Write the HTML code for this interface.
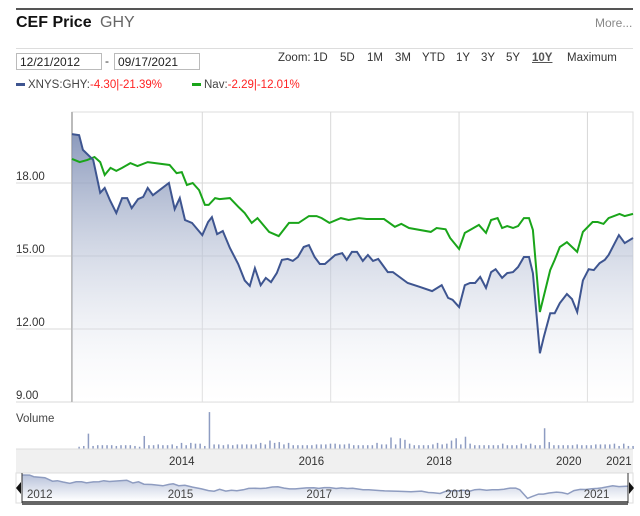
<!DOCTYPE html>
<html><head><meta charset="utf-8"><style>
body{margin:0;background:#fff;width:640px;height:516px;overflow:hidden;font-family:"Liberation Sans",sans-serif;position:relative}
.a{position:absolute;white-space:nowrap}
input{position:absolute;font:12px "Liberation Sans",sans-serif;border:1px solid #bbb;padding:0 3px;height:17px;box-sizing:border-box;color:#222}
.z{position:absolute;top:52px;font-size:11.5px;color:#333}
</style></head><body>
<div class="a" style="left:16px;top:8px;width:617px;height:2px;background:#555"></div>
<div class="a" style="left:16px;top:14px;font-size:16px;font-weight:bold;color:#111">CEF Price <span style="font-weight:normal;color:#666;margin-left:4px">GHY</span></div>
<div class="a" style="left:595px;top:16px;font-size:12px;color:#888">More...</div>
<div class="a" style="left:16px;top:48px;width:617px;height:1px;background:#ddd"></div>
<input style="left:16px;top:53px;width:86px" value="12/21/2012">
<div class="a" style="left:105px;top:54px;font-size:12px;color:#333">-</div>
<input style="left:114px;top:53px;width:86px" value="09/17/2021">
<div class="z" style="left:278px">Zoom:</div>
<div class="z" style="left:313px">1D</div>
<div class="z" style="left:340px">5D</div>
<div class="z" style="left:367px">1M</div>
<div class="z" style="left:395px">3M</div>
<div class="z" style="left:422px">YTD</div>
<div class="z" style="left:456px">1Y</div>
<div class="z" style="left:481px">3Y</div>
<div class="z" style="left:506px">5Y</div>
<div class="z" style="left:532px;font-weight:bold;text-decoration:underline;color:#555">10Y</div>
<div class="z" style="left:567px">Maximum</div>
<div class="a" style="left:16px;top:79px;font-size:11.5px;color:#444"><span style="display:inline-block;width:9px;height:3px;background:#3e5590;vertical-align:middle;margin-right:3px"></span>XNYS:GHY:<span style="color:#f22">-4.30|-21.39%</span></div>
<div class="a" style="left:192px;top:79px;font-size:11.5px;color:#444"><span style="display:inline-block;width:9px;height:3px;background:#1aa51a;vertical-align:middle;margin-right:3px"></span>Nav:<span style="color:#f22">-2.29|-12.01%</span></div>
<div class="a" style="left:16px;top:413px;font-size:11.5px;color:#444">Volume</div>
<svg id="c" width="640" height="516" style="position:absolute;left:0;top:0">
<defs>
<linearGradient id="g" x1="0" y1="0" x2="0" y2="1"><stop offset="0" stop-color="#7f8fb5" stop-opacity="0.9"/><stop offset="1" stop-color="#fff" stop-opacity="0.2"/></linearGradient>
<linearGradient id="g2" x1="0" y1="0" x2="0" y2="1"><stop offset="0" stop-color="#b8c2da"/><stop offset="1" stop-color="#fff"/></linearGradient>
</defs>
</svg>
<script>
const priceDates=[2012.97,2013.08,2013.14,2013.30,2013.41,2013.48,2013.56,2013.66,2013.75,2013.83,2013.90,2014.00,2014.08,2014.15,2014.23,2014.48,2014.57,2014.65,2014.73,2014.84,2015.0,2015.09,2015.15,2015.23,2015.32,2015.43,2015.56,2015.66,2015.74,2015.82,2015.91,2015.99,2016.07,2016.16,2016.24,2016.33,2016.41,2016.49,2016.58,2016.66,2016.75,2016.83,2016.91,2017.07,2017.18,2017.25,2017.33,2017.41,2017.50,2017.58,2017.66,2017.74,2017.89,2017.97,2018.2,2018.39,2018.58,2018.73,2018.83,2018.90,2019.0,2019.09,2019.17,2019.25,2019.33,2019.42,2019.50,2019.57,2019.67,2019.75,2019.84,2019.92,2020.01,2020.09,2020.15,2020.26,2020.32,2020.42,2020.49,2020.57,2020.68,2020.76,2020.84,2020.93,2021.02,2021.10,2021.19,2021.27,2021.33,2021.49,2021.58,2021.71];
const priceValues=[20.01,19.97,19.36,18.95,17.6,17.8,17.3,16.77,17.38,17.38,16.97,17.34,17.43,17.8,17.5,18.0,16.93,17.38,16.48,16.36,15.86,16.4,16.6,15.9,16.03,15.33,14.67,14.0,13.77,14.5,13.8,14.1,13.93,14.3,14.84,14.88,14.8,14.96,15.37,15.45,14.96,14.67,14.67,15.04,15.12,14.84,15.17,15.17,14.8,15.04,14.8,14.88,14.34,14.34,13.89,13.73,13.56,13.8,13.28,13.2,12.9,13.8,13.89,13.89,14.14,13.69,14.34,14.46,14.1,14.3,14.34,14.55,14.96,14.96,14.3,11.0,11.67,12.65,12.65,13.06,13.44,13.23,12.7,14.0,14.46,14.42,14.71,14.84,15.04,15.86,15.53,15.74];
const navDates=[2012.97,2013.09,2013.21,2013.32,2013.41,2013.48,2013.57,2013.66,2013.75,2013.88,2013.99,2014.15,2014.49,2014.60,2014.68,2014.76,2014.85,2014.95,2015.04,2015.10,2015.20,2015.27,2015.43,2015.57,2015.66,2015.77,2015.86,2016.04,2016.19,2016.35,2016.50,2016.66,2016.78,2016.86,2016.98,2017.16,2017.28,2017.44,2017.56,2017.83,2018.00,2018.10,2018.22,2018.56,2018.65,2018.79,2018.86,2019.00,2019.09,2019.17,2019.31,2019.42,2019.50,2019.60,2019.67,2019.75,2019.84,2019.92,2020.01,2020.09,2020.15,2020.26,2020.42,2020.49,2020.57,2020.68,2020.84,2020.93,2021.08,2021.16,2021.25,2021.33,2021.50,2021.58,2021.71];
const navValues=[18.99,18.86,18.95,19.07,18.86,18.33,18.62,18.5,18.62,18.82,18.7,18.86,18.74,18.41,18.45,17.92,18.0,17.71,17.1,17.1,17.38,17.34,17.38,17.0,16.77,16.36,16.56,15.99,15.82,16.36,16.36,16.64,16.64,16.56,16.36,16.56,16.48,16.56,16.52,16.52,16.2,16.32,16.15,15.99,16.15,16.1,15.74,15.29,15.95,16.07,16.28,15.95,16.48,16.56,16.15,16.23,16.15,16.23,16.56,16.56,16.07,12.7,14.42,14.84,15.37,15.57,15.17,15.99,16.4,16.4,16.32,16.56,16.73,16.64,16.73];
const volumeValues=[1,2,18,2,3,3,3,3,2,3,3,3,2,1,15,3,3,4,3,3,4,2,6,3,6,5,5,2,46,4,4,3,4,3,4,4,4,4,4,6,4,9,6,7,4,6,3,3,3,3,3,4,4,4,5,5,4,4,5,3,3,3,3,3,6,4,4,13,4,12,10,5,3,3,3,3,4,6,4,5,9,12,4,14,5,3,3,3,3,3,3,5,3,3,3,5,3,5,3,3,25,7,3,3,3,3,3,4,3,3,3,4,4,4,4,5,2,5,2,2];
const yTicks=[18,15,12,9];
const yTickLabels=["18.00","15.00","12.00","9.00"];
const gridYears=[2015,2017,2019,2021];
const axisLabelYears=[2014,2016,2018,2020,2021];
const axisLabelPos=[2014.68,2016.70,2018.69,2020.71,2021.49];
const navLabels=["2012","2015","2017","2019","2021"];
const navLabelPos=[2012.97,2015.0,2017.0,2019.0,2021.0];

const NS="http://www.w3.org/2000/svg",svg=document.getElementById('c');
const X0=72,X1=633,D0=2012.97,D1=2021.71;
const x=d=>X0+(d-D0)/(D1-D0)*(X1-X0);
const y=v=>402-(v-9)*24.33;
const NX0=22,NX1=628,ND0=2012.97,ND1=2021.71;
const nx=d=>NX0+(d-ND0)/(ND1-ND0)*(NX1-NX0);
const ny=v=>501-(v-10)*2.6;
function mk(t,a,p){const e=document.createElementNS(NS,t);for(const k in a)e.setAttribute(k,a[k]);(p||svg).appendChild(e);return e;}
let e=mk('rect',{x:X0,y:112,width:X1-X0,height:290,fill:'none',stroke:'#ddd'});


yTicks.forEach((t,i)=>{
 let l=mk('line',{x1:16,x2:X1,y1:y(t),y2:y(t),stroke:'#d8d8d8'});
 
 
 let tx=mk('text',{x:16,y:y(t)-3,'font-size':'11.5','fill':'#333','font-family':'Liberation Sans'});
 tx.textContent=yTickLabels[i];
 
 
});
gridYears.forEach(g=>{
 let l=mk('line',{x1:x(g),x2:x(g),y1:112,y2:402,stroke:'#d8d8d8'});
 
 
});
e=mk('line',{x1:X0,x2:X0,y1:112,y2:402,stroke:'#bbb','stroke-width':2});


let pts=priceDates.map((d,i)=>x(d).toFixed(1)+','+y(priceValues[i]).toFixed(1));
e=mk('polygon',{points:x(priceDates[0])+',402 '+pts.join(' ')+' '+x(priceDates[priceDates.length-1])+',402',fill:'url(#g)'});


e=mk('polyline',{points:navDates.map((d,i)=>x(d).toFixed(1)+','+y(navValues[i]).toFixed(1)).join(' '),fill:'none',stroke:'#1aa51a','stroke-width':2});


e=mk('polyline',{points:pts.join(' '),fill:'none',stroke:'#3e5590','stroke-width':2});


const vStart=2013.08,vStep=(D1-vStart)/(volumeValues.length-1);
volumeValues.forEach((v,i)=>{
 const xx=x(vStart+i*vStep);
 const h=1.5+v*0.77;
 let r=mk('rect',{x:xx-0.7,y:449-h,width:1.5,height:h,fill:'#8e9cc2'});
 
 
});
e=mk('rect',{x:16,y:449,width:617,height:24,fill:'#f0f0f0'});


mk('line',{x1:16,x2:633,y1:449,y2:449,stroke:'#ddd'});
axisLabelYears.forEach((t,i)=>{
 let tx=mk('text',{x:x(axisLabelPos[i]),y:465,'font-size':'11.5','fill':'#333','text-anchor':'middle','font-family':'Liberation Sans'});
 tx.textContent=t;
 
 
});
e=mk('rect',{x:16,y:473,width:617,height:30,fill:'#fff',stroke:'#ddd'});


let npts=priceDates.map((d,i)=>nx(d).toFixed(1)+','+ny(priceValues[i]).toFixed(1));
e=mk('polygon',{points:NX0+',501 '+npts.join(' ')+' '+NX1+',501',fill:'url(#g2)'});


e=mk('polyline',{points:npts.join(' '),fill:'none',stroke:'#8e9cc0','stroke-width':1.5});


navLabels.forEach((t,i)=>{
 let px=Math.min(nx(navLabelPos[i])+5,NX1-28);
 let tx=mk('text',{x:px,y:498,'font-size':'11.5','fill':'#444','font-family':'Liberation Sans'});
 tx.textContent=t;
 
 
});
e=mk('rect',{x:NX0,y:501,width:NX1-NX0,height:4,fill:'#666'});


mk('line',{x1:NX0,x2:NX0,y1:473,y2:503,stroke:'#333'});
mk('line',{x1:NX1,x2:NX1,y1:473,y2:503,stroke:'#333'});
e=mk('polygon',{points:(NX0-1)+',482 '+(NX0-1)+',494 '+(NX0-6)+',488',fill:'#111'});


e=mk('polygon',{points:(NX1+1)+',482 '+(NX1+1)+',494 '+(NX1+6)+',488',fill:'#111'});


</script>
</body></html>
